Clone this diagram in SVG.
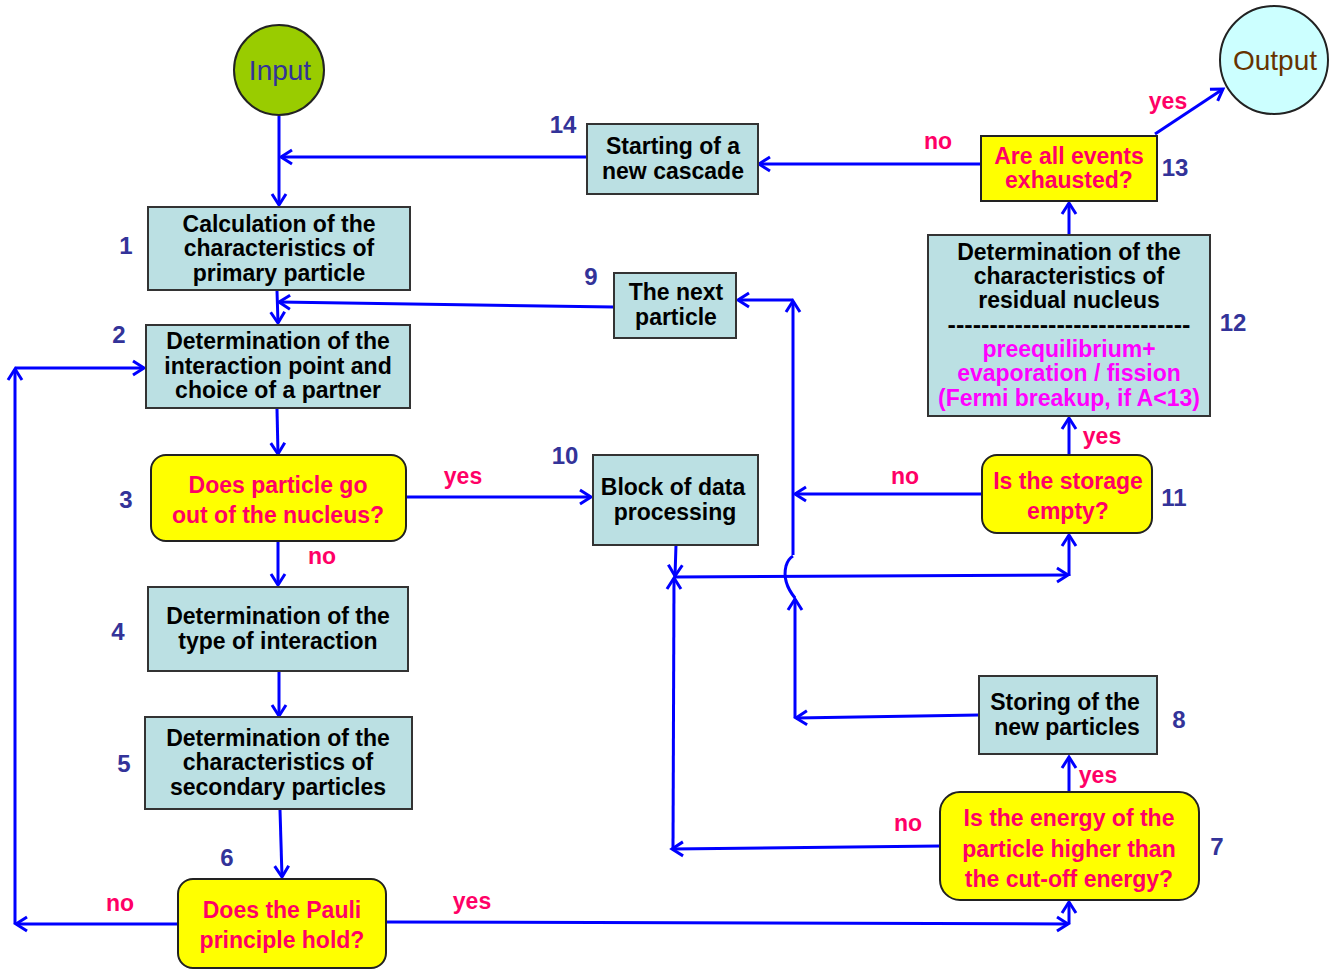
<svg xmlns="http://www.w3.org/2000/svg" width="1338" height="970" viewBox="0 0 1338 970">
<defs>
<style>
.box{fill:#bbe0e3;stroke:#333;stroke-width:2}
.dec{fill:#ffff00;stroke:#222;stroke-width:2}
.t{font-family:"Liberation Sans",Arial,sans-serif;font-size:23px;font-weight:bold;fill:#000;text-anchor:middle}
.q{font-family:"Liberation Sans",Arial,sans-serif;font-size:23px;font-weight:bold;fill:#ff0066;text-anchor:middle}
.m{font-family:"Liberation Sans",Arial,sans-serif;font-size:23px;font-weight:bold;fill:#ff00ff;text-anchor:middle}
.n{font-family:"Liberation Sans",Arial,sans-serif;font-size:24px;font-weight:bold;fill:#333399;text-anchor:middle}
.l{font-family:"Liberation Sans",Arial,sans-serif;font-size:23px;font-weight:bold;fill:#ff0066;text-anchor:middle}
.c{stroke:#0000ff;stroke-width:3;fill:none;marker-end:url(#a)}
.p{stroke:#0000ff;stroke-width:3;fill:none}
</style>
<marker id="a" markerUnits="userSpaceOnUse" markerWidth="20" markerHeight="20" refX="13" refY="9" orient="auto">
<path d="M2,2 L13,9 L2,16" fill="none" stroke="#0000ff" stroke-width="3"/>
</marker>
</defs>
<rect width="1338" height="970" fill="#fff"/>

<g id="connectors">
<line class="c" x1="279" y1="116" x2="279" y2="205"/>
<line class="c" x1="587" y1="157" x2="281" y2="157"/>
<line class="c" x1="277" y1="291" x2="278" y2="323"/>
<line class="c" x1="614" y1="307" x2="279" y2="302"/>
<line class="c" x1="277" y1="409" x2="278" y2="454"/>
<line class="c" x1="406" y1="497" x2="591" y2="497"/>
<line class="c" x1="278" y1="542" x2="278" y2="585"/>
<line class="c" x1="279" y1="672" x2="279" y2="716"/>
<line class="c" x1="280" y1="810" x2="282" y2="877"/>
<line class="c" x1="178" y1="924" x2="16" y2="924"/>
<line class="c" x1="15" y1="924" x2="15" y2="369"/>
<line class="c" x1="15" y1="368" x2="144" y2="368"/>
<line class="c" x1="386" y1="922" x2="1068" y2="924"/>
<line class="c" x1="1069" y1="924" x2="1069" y2="902"/>
<line class="c" x1="940" y1="846" x2="672" y2="849"/>
<line class="c" x1="673" y1="849" x2="674" y2="578"/>
<line class="c" x1="676" y1="545" x2="675" y2="576"/>
<line class="c" x1="675" y1="577" x2="1068" y2="575"/>
<line class="c" x1="1069" y1="576" x2="1069" y2="535"/>
<line class="c" x1="982" y1="494" x2="795" y2="494"/>
<line class="c" x1="793" y1="555" x2="793" y2="301"/>
<line class="c" x1="793" y1="300" x2="738" y2="300"/>
<line class="c" x1="979" y1="715" x2="796" y2="718"/>
<line class="c" x1="795" y1="718" x2="795" y2="599"/>
<path class="p" d="M795,598 Q782,582 786,566 Q788,559 793,556"/>
<line class="c" x1="1069" y1="792" x2="1069" y2="757"/>
<line class="c" x1="1069" y1="455" x2="1069" y2="418"/>
<line class="c" x1="1069" y1="235" x2="1069" y2="203"/>
<line class="c" x1="981" y1="164" x2="759" y2="164"/>
<line class="c" x1="1155" y1="134" x2="1223" y2="89"/>
</g>

<g id="labels">
<text class="l" x="463" y="484">yes</text>
<text class="l" x="322" y="564">no</text>
<text class="l" x="120" y="911">no</text>
<text class="l" x="472" y="909">yes</text>
<text class="l" x="908" y="831">no</text>
<text class="l" x="1098" y="783">yes</text>
<text class="l" x="905" y="484">no</text>
<text class="l" x="1102" y="444">yes</text>
<text class="l" x="938" y="149">no</text>
<text class="l" x="1168" y="109">yes</text>
</g>

<g id="input">
<circle cx="279" cy="70" r="45" fill="#99cc00" stroke="#222" stroke-width="2"/>
<text class="t" x="280" y="80" style="font-size:28px;font-weight:normal;fill:#333399">Input</text>
</g>
<g id="output">
<circle cx="1274" cy="60" r="54" fill="#ccffff" stroke="#222" stroke-width="2"/>
<text class="t" x="1275" y="70" style="font-size:28px;font-weight:normal;fill:#663300">Output</text>
</g>

<g id="n1">
<rect class="box" x="148" y="207" width="262" height="83"/>
<text class="t" x="279" y="232">Calculation of the</text>
<text class="t" x="279" y="256">characteristics of</text>
<text class="t" x="279" y="281">primary particle</text>
<text class="n" x="126" y="254">1</text>
</g>
<g id="n2">
<rect class="box" x="146" y="325" width="264" height="83"/>
<text class="t" x="278" y="349">Determination of the</text>
<text class="t" x="278" y="374">interaction point and</text>
<text class="t" x="278" y="398">choice of a partner</text>
<text class="n" x="119" y="343">2</text>
</g>
<g id="n3">
<rect class="dec" x="151" y="455" width="255" height="86" rx="15"/>
<text class="q" x="278" y="493">Does particle go</text>
<text class="q" x="278" y="523">out of the nucleus?</text>
<text class="n" x="126" y="508">3</text>
</g>
<g id="n4">
<rect class="box" x="148" y="587" width="260" height="84"/>
<text class="t" x="278" y="624">Determination of the</text>
<text class="t" x="278" y="649">type of interaction</text>
<text class="n" x="118" y="640">4</text>
</g>
<g id="n5">
<rect class="box" x="145" y="717" width="267" height="92"/>
<text class="t" x="278" y="746">Determination of the</text>
<text class="t" x="278" y="770">characteristics of</text>
<text class="t" x="278" y="795">secondary particles</text>
<text class="n" x="124" y="772">5</text>
</g>
<g id="n6">
<rect class="dec" x="178" y="879" width="208" height="89" rx="15"/>
<text class="q" x="282" y="918">Does the Pauli</text>
<text class="q" x="282" y="948">principle hold?</text>
<text class="n" x="227" y="866">6</text>
</g>
<g id="n7">
<rect class="dec" x="940" y="792" width="259" height="108" rx="20"/>
<text class="q" x="1069" y="826">Is the energy of the</text>
<text class="q" x="1069" y="857">particle higher than</text>
<text class="q" x="1069" y="887">the cut-off energy?</text>
<text class="n" x="1217" y="855">7</text>
</g>
<g id="n8">
<rect class="box" x="979" y="676" width="178" height="78"/>
<text class="t" x="1065" y="710">Storing of the</text>
<text class="t" x="1067" y="735">new particles</text>
<text class="n" x="1179" y="728">8</text>
</g>
<g id="n9">
<rect class="box" x="614" y="273" width="122" height="65"/>
<text class="t" x="676" y="300">The next</text>
<text class="t" x="676" y="325">particle</text>
<text class="n" x="591" y="285">9</text>
</g>
<g id="n10">
<rect class="box" x="593" y="455" width="165" height="90"/>
<text class="t" x="673" y="495">Block of data</text>
<text class="t" x="675" y="520">processing</text>
<text class="n" x="565" y="464">10</text>
</g>
<g id="n11">
<rect class="dec" x="982" y="455" width="170" height="78" rx="15"/>
<text class="q" x="1068" y="489">Is the storage</text>
<text class="q" x="1068" y="519">empty?</text>
<text class="n" x="1174" y="506">11</text>
</g>
<g id="n12">
<rect class="box" x="928" y="235" width="282" height="181"/>
<text class="t" x="1069" y="260">Determination of the</text>
<text class="t" x="1069" y="284">characteristics of</text>
<text class="t" x="1069" y="308">residual nucleus</text>
<text class="t" x="1069" y="333" textLength="243" lengthAdjust="spacingAndGlyphs">-----------------------------</text>
<text class="m" x="1069" y="357">preequilibrium+</text>
<text class="m" x="1069" y="381">evaporation / fission</text>
<text class="m" x="1069" y="406">(Fermi breakup, if A&lt;13)</text>
<text class="n" x="1233" y="331">12</text>
</g>
<g id="n13">
<rect class="dec" x="981" y="136" width="176" height="65"/>
<text class="q" x="1069" y="164">Are all events</text>
<text class="q" x="1069" y="188">exhausted?</text>
<text class="n" x="1175" y="176">13</text>
</g>
<g id="n14">
<rect class="box" x="587" y="124" width="171" height="70"/>
<text class="t" x="673" y="154">Starting of a</text>
<text class="t" x="673" y="179">new cascade</text>
<text class="n" x="563" y="133">14</text>
</g>
</svg>
